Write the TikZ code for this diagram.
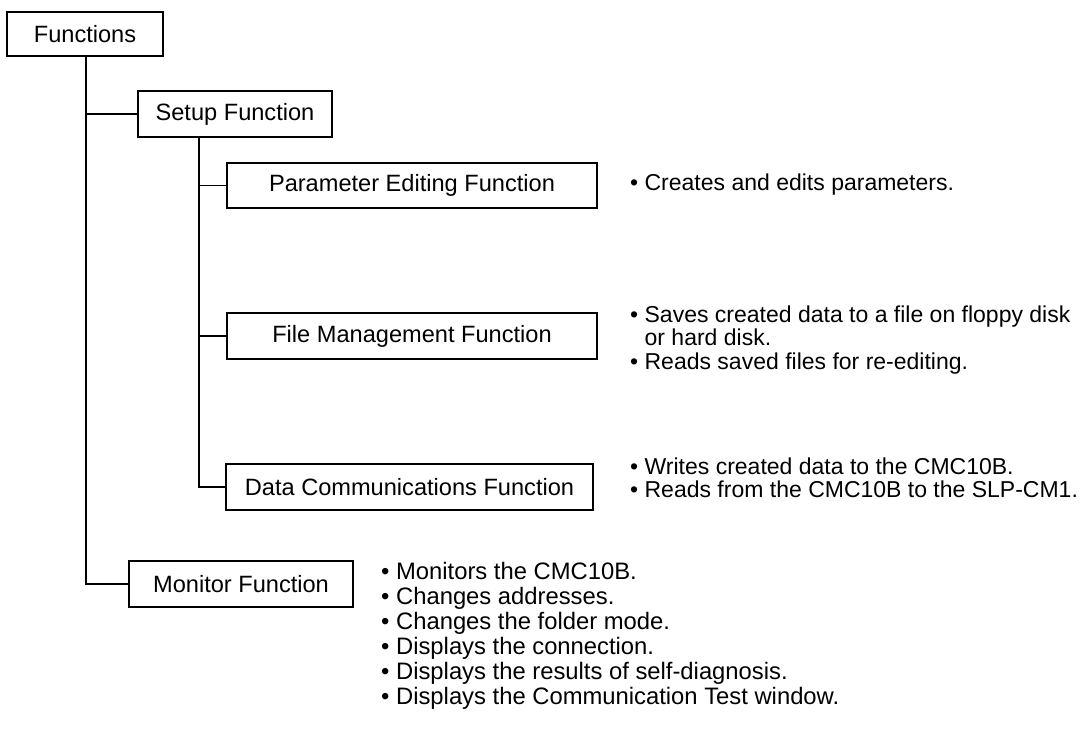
\documentclass[tikz,border=0pt]{standalone}
\usepackage{fontspec}
\setmainfont{Liberation Sans}
\begin{document}
\begin{tikzpicture}[x=1pt,y=-1pt,
  box/.style={draw, line width=1.4pt, inner sep=0pt, font=\fontsize{23.6}{24}\selectfont},
  desc/.style={inner sep=0pt, align=left, anchor=west, font=\fontsize{23}{23.4}\selectfont},
  mdesc/.style={inner sep=0pt, align=left, anchor=west, font=\fontsize{23.8}{25}\selectfont},
  conn/.style={line width=1.4pt}]
\useasboundingbox (0,0) rectangle (1092,728);
\node[box, minimum width=156pt, minimum height=44pt] (fun) at (85,34) {Functions};
\node[box, minimum width=194pt, minimum height=46pt] (setup) at (235,114) {Setup Function};
\node[box, minimum width=370pt, minimum height=45pt] (param) at (412,185.5) {Parameter Editing Function};
\node[box, minimum width=370pt, minimum height=46pt] (file) at (412,336) {File Management Function};
\node[box, minimum width=367pt, minimum height=46pt] (data) at (409.5,487) {Data Communications Function};
\node[box, minimum width=224pt, minimum height=46pt] (mon) at (241,584) {Monitor Function};

\coordinate (mt) at ([xshift=1pt]fun.south);
\coordinate (st) at ([xshift=-36pt]setup.south);
\draw[conn] (mt) -- (mt |- mon.west) -- (mon.west);
\draw[conn] (mt |- setup.west) -- (setup.west);
\draw[conn] (st) -- (st |- data.west) -- (data.west);
\draw[conn] (st |- param.west) -- (param.west);
\draw[conn] (st |- file.west) -- (file.west);

\node[desc] (tparam) at (630,185) {• Creates and edits parameters.};
\node[desc] (tfile) at (630,340) {• Saves created data to a file on floppy disk\\\phantom{• }or hard disk.\\• Reads saved files for re-editing.};
\node[desc] (tdata) at (630,478) {• Writes created data to the CMC10B.\\• Reads from the CMC10B to the SLP-CM1.};
\node[mdesc] (tmon) at (381,636) {• Monitors the CMC10B.\\• Changes addresses.\\• Changes the folder mode.\\• Displays the connection.\\• Displays the results of self-diagnosis.\\• Displays the Communication Test window.};
\end{tikzpicture}
\end{document}
